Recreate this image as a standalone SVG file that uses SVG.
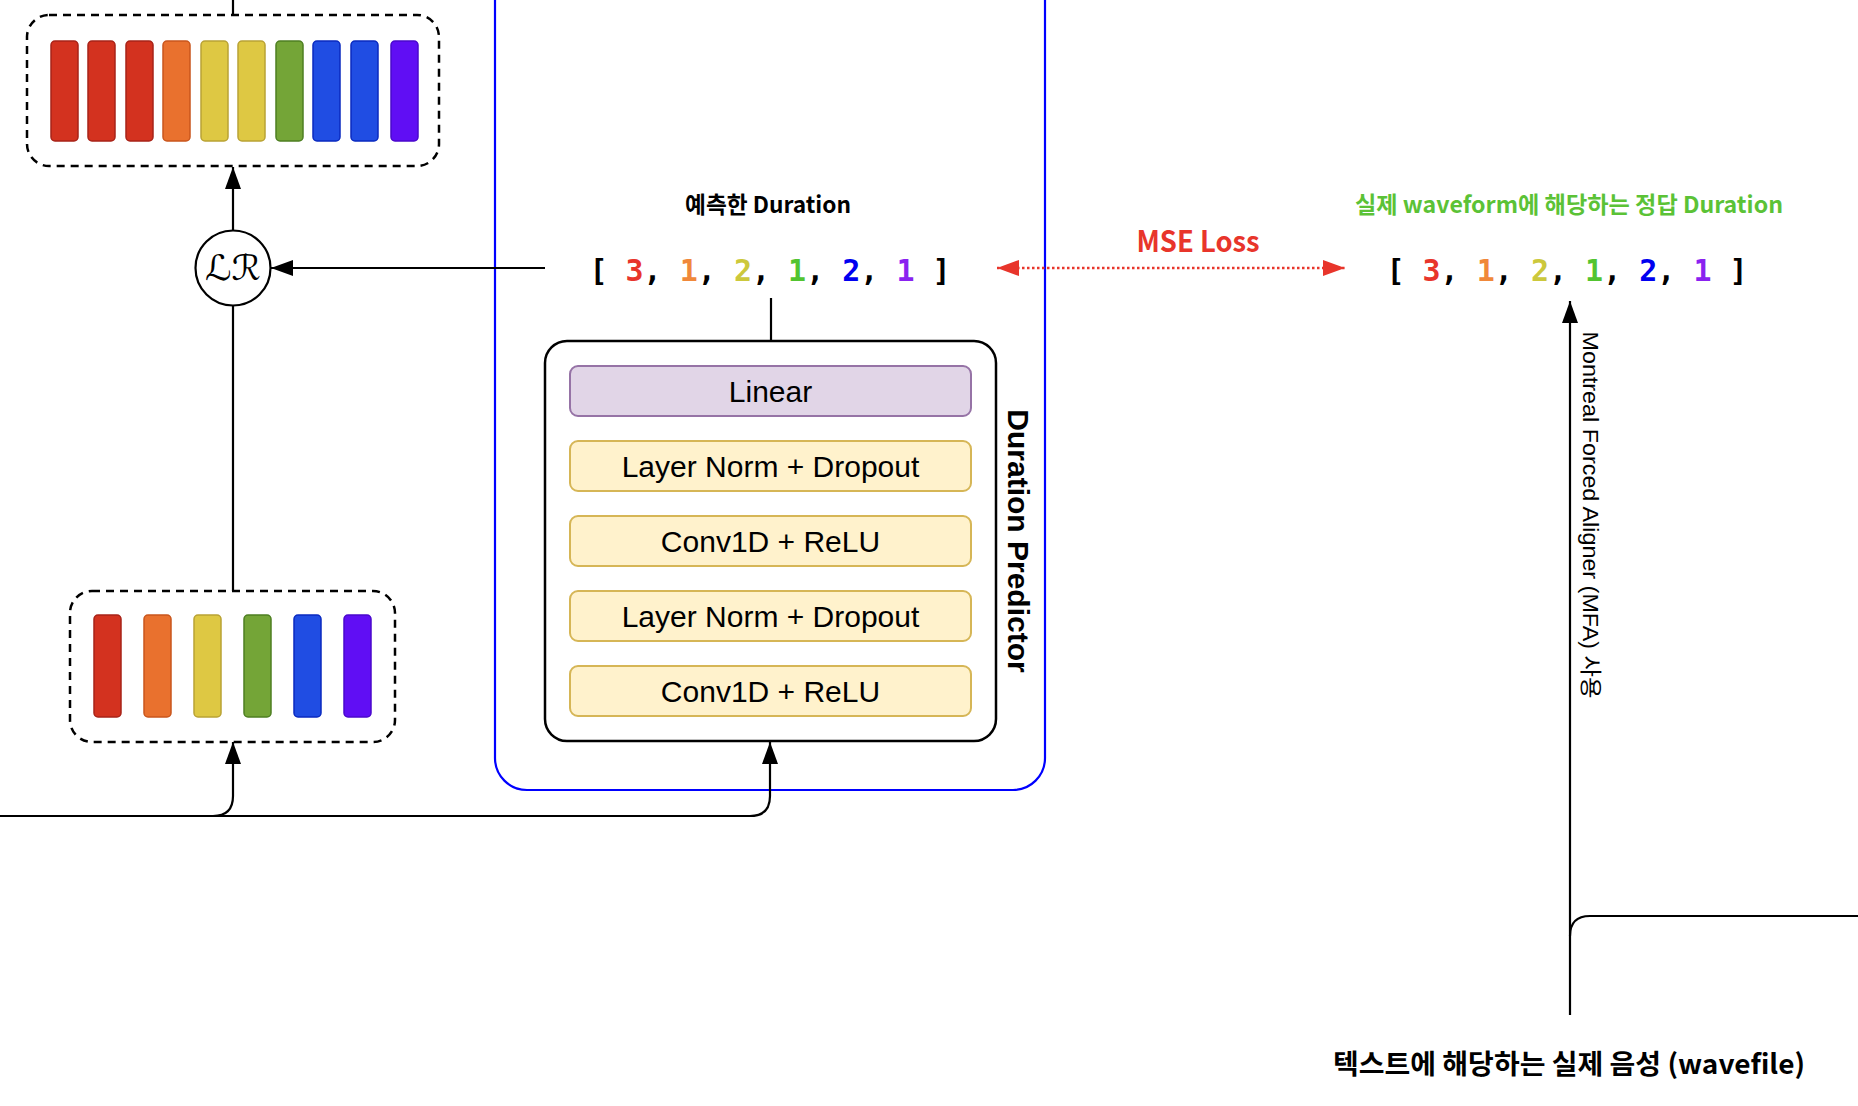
<svg xmlns="http://www.w3.org/2000/svg" width="1858" height="1106" viewBox="0 0 1858 1106">
<style>
.ln{fill:none;stroke:#000;stroke-width:2.2}
.dash{fill:none;stroke:#000;stroke-width:2.5;stroke-dasharray:8 6}
.bar{stroke-width:1.5}
.r{fill:#D3321F;stroke:#A82318}
.o{fill:#E9712E;stroke:#C9561D}
.y{fill:#DEC843;stroke:#B9A235}
.g{fill:#74A537;stroke:#4E7F22}
.b{fill:#204DE3;stroke:#0A2AC0}
.p{fill:#600EF4;stroke:#4A08CC}
.blk{fill:#FFF2CC;stroke:#D6B656;stroke-width:2}
.lin{fill:#E1D5E7;stroke:#9673A6;stroke-width:2}
.bt{font-family:"Liberation Sans",Arial,sans-serif;font-size:30px;text-anchor:middle;fill:#000}
.kb{font-family:"Noto Sans CJK KR","Liberation Sans",sans-serif;font-weight:bold;text-anchor:middle}
.arr{font-family:"DejaVu Sans Mono","Liberation Mono",monospace;font-weight:bold;font-size:30px;text-anchor:middle;white-space:pre}
.c1{fill:#E8352B}.c2{fill:#F0883A}.c3{fill:#CCC83C}.c4{fill:#52C430}.c5{fill:#0000F0}.c6{fill:#8A22F0}
</style>
<defs>
<marker id="ah" viewBox="0 0 22 16" refX="22" refY="8" markerWidth="22" markerHeight="16" markerUnits="userSpaceOnUse" orient="auto">
<path d="M0,0 L22,8 L0,16 z" fill="#000"/>
</marker>
<marker id="ahr" viewBox="0 0 22 16" refX="22" refY="8" markerWidth="22" markerHeight="16" markerUnits="userSpaceOnUse" orient="auto-start-reverse">
<path d="M0,0 L22,8 L0,16 z" fill="#E8352B"/>
</marker>
</defs>
<rect width="1858" height="1106" fill="#fff"/>

<g id="blue-container">
<rect x="495" y="-60" width="550" height="850" rx="32" fill="none" stroke="#0000FF" stroke-width="2.2"/>
</g>

<g id="connectors">
<path class="ln" d="M233 0 L233 15"/>
<path class="ln" d="M233 230 L233 167" marker-end="url(#ah)"/>
<path class="ln" d="M233 591 L233 306"/>
<path class="ln" d="M545 268 L271 268" marker-end="url(#ah)"/>
<path class="ln" d="M771 341 L771 298"/>
<path class="ln" d="M0 816 L213 816 Q233 816 233 796 L233 742" marker-end="url(#ah)"/>
<path class="ln" d="M0 816 L750 816 Q770 816 770 796 L770 742" marker-end="url(#ah)"/>
<path d="M997 268 L1345 268" fill="none" stroke="#E8352B" stroke-width="2.5" stroke-dasharray="2.5 2.5" marker-start="url(#ahr)" marker-end="url(#ahr)"/>
<path class="ln" d="M1570 1015 L1570 301" marker-end="url(#ah)"/>
<path class="ln" d="M1858 916 L1590 916 Q1570 916 1570 936"/>
</g>

<g id="expanded-sequence">
<rect class="dash" x="27" y="15" width="412" height="151" rx="22"/>
<rect class="bar r" x="51" y="41" width="27" height="100" rx="4"/>
<rect class="bar r" x="88" y="41" width="27" height="100" rx="4"/>
<rect class="bar r" x="126" y="41" width="27" height="100" rx="4"/>
<rect class="bar o" x="163" y="41" width="27" height="100" rx="4"/>
<rect class="bar y" x="201" y="41" width="27" height="100" rx="4"/>
<rect class="bar y" x="238" y="41" width="27" height="100" rx="4"/>
<rect class="bar g" x="276" y="41" width="27" height="100" rx="4"/>
<rect class="bar b" x="313" y="41" width="27" height="100" rx="4"/>
<rect class="bar b" x="351" y="41" width="27" height="100" rx="4"/>
<rect class="bar p" x="391" y="41" width="27" height="100" rx="4"/>
</g>

<g id="length-regulator">
<circle cx="233" cy="268" r="37.5" fill="#fff" stroke="#000" stroke-width="2.2"/>
<text x="233" y="280" font-family="DejaVu Serif,DejaVu Sans,serif" font-style="italic" font-size="35" text-anchor="middle" textLength="56" lengthAdjust="spacingAndGlyphs">ℒℛ</text>
</g>

<g id="phoneme-sequence">
<rect class="dash" x="70" y="591" width="325" height="151" rx="22"/>
<rect class="bar r" x="94" y="615" width="27" height="102" rx="4"/>
<rect class="bar o" x="144" y="615" width="27" height="102" rx="4"/>
<rect class="bar y" x="194" y="615" width="27" height="102" rx="4"/>
<rect class="bar g" x="244" y="615" width="27" height="102" rx="4"/>
<rect class="bar b" x="294" y="615" width="27" height="102" rx="4"/>
<rect class="bar p" x="344" y="615" width="27" height="102" rx="4"/>
</g>

<g id="duration-predictor">
<rect x="545" y="341" width="451" height="400" rx="22" fill="#fff" stroke="#000" stroke-width="2.5"/>
<rect class="lin" x="570" y="366" width="401" height="50" rx="8"/>
<text class="bt" x="770.5" y="401.5">Linear</text>
<rect class="blk" x="570" y="441" width="401" height="50" rx="8"/>
<text class="bt" x="770.5" y="476.5">Layer Norm + Dropout</text>
<rect class="blk" x="570" y="516" width="401" height="50" rx="8"/>
<text class="bt" x="770.5" y="551.5">Conv1D + ReLU</text>
<rect class="blk" x="570" y="591" width="401" height="50" rx="8"/>
<text class="bt" x="770.5" y="626.5">Layer Norm + Dropout</text>
<rect class="blk" x="570" y="666" width="401" height="50" rx="8"/>
<text class="bt" x="770.5" y="701.5">Conv1D + ReLU</text>
<text transform="translate(1008,541) rotate(90)" font-family="Liberation Sans,Arial,sans-serif" font-weight="bold" font-size="30" text-anchor="middle">Duration Predictor</text>
</g>

<g id="predicted-duration">
<text class="kb" x="768" y="213" font-size="23" fill="#000" textLength="166" lengthAdjust="spacingAndGlyphs">예측한 Duration</text>
<text class="arr" x="770" y="281" xml:space="preserve">[ <tspan class="c1">3</tspan>, <tspan class="c2">1</tspan>, <tspan class="c3">2</tspan>, <tspan class="c4">1</tspan>, <tspan class="c5">2</tspan>, <tspan class="c6">1</tspan> ]</text>
</g>

<g id="mse-loss">
<text class="kb" x="1198" y="252" font-size="29" fill="#E8352B" textLength="123" lengthAdjust="spacingAndGlyphs">MSE Loss</text>
</g>

<g id="target-duration">
<text class="kb" x="1569" y="213" font-size="23" fill="#5BC236" textLength="428" lengthAdjust="spacingAndGlyphs">실제 waveform에 해당하는 정답 Duration</text>
<text class="arr" x="1567" y="281" xml:space="preserve">[ <tspan class="c1">3</tspan>, <tspan class="c2">1</tspan>, <tspan class="c3">2</tspan>, <tspan class="c4">1</tspan>, <tspan class="c5">2</tspan>, <tspan class="c6">1</tspan> ]</text>
</g>

<g id="mfa-label">
<text transform="translate(1583,515) rotate(90)" font-family="Liberation Sans,Arial,'Noto Sans CJK KR',sans-serif" font-size="22" text-anchor="middle" textLength="367" lengthAdjust="spacingAndGlyphs">Montreal Forced Aligner (MFA) 사용</text>
</g>

<g id="wavefile">
<text class="kb" x="1569" y="1074" font-size="27" fill="#000" textLength="472" lengthAdjust="spacingAndGlyphs">텍스트에 해당하는 실제 음성 (wavefile)</text>
</g>
</svg>
